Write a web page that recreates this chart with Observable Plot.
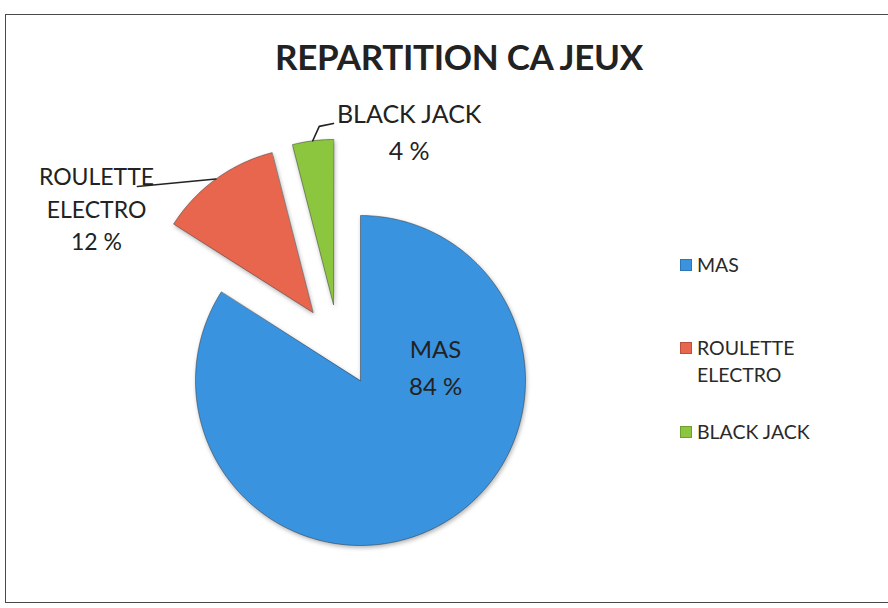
<!DOCTYPE html>
<html>
<head>
<meta charset="utf-8">
<script src="https://cdn.jsdelivr.net/npm/d3@7"></script>
<script src="https://cdn.jsdelivr.net/npm/@observablehq/plot@0.6"></script>
<style>
  html, body { margin: 0; padding: 0; background: #fff; }
  #wrap { position: relative; width: 888px; height: 608px; overflow: hidden; background: #fff; font-family: Lato, "Open Sans", sans-serif; }
  #frame { position: absolute; left: 5px; top: 14px; width: 900px; height: 589px; border: 1.5px solid #4a4a4a; box-sizing: border-box; }
  #title { position: absolute; left: 0; width: 918px; top: 35px; text-align: center; font-weight: 700; font-size: 35px; color: #222; letter-spacing: -0.3px; }
  #chart { position: absolute; left: 0; top: 0; }
  #legend { position: absolute; left: 680px; top: 0; font-size: 19.5px; color: #2a2a2a; }
  .item { position: absolute; left: 0; white-space: nowrap; line-height: 27px; }
  .sw { position: absolute; left: 0; top: 8px; width: 12px; height: 12px; }
  .lab { position: absolute; left: 17px; top: 0; }
</style>
</head>
<body>
<div id="wrap">
  <div id="frame"></div>
  <div id="title"></div>
  <div id="chart"></div>
  <div id="legend"></div>
</div>
<script>
// ---- data ----
const title = "REPARTITION CA JEUX";
const categories = ["MAS", "ROULETTE ELECTRO", "BLACK JACK"];
const values = [84, 12, 4];
const sliceLabels = [["MAS", "84 %"], ["ROULETTE", "ELECTRO", "12 %"], ["BLACK JACK", "4 %"]];
const legendLabels = [["MAS"], ["ROULETTE", "ELECTRO"], ["BLACK JACK"]];
const colors = ["#3a93df", "#e8654e", "#8cc63f"];

// ---- layout (code, not data) ----
const W = 888, H = 608;
const cx = 360, cy = 380, R = 165;            // pie centre and radius in px
const explodeDist = [0, 0.503, 0.489];         // in radius units
const explodeDir = [null, 325, 340.4];         // degrees clockwise from 12 o'clock
const labelAnchors = [[0.455, 0.095], [-1.6, 1.05], [0.295, 1.52]];
const labelSizes = [24, 23, 25];
const labelLineHeights = [1.54, 1.4, 1.48];
const legendTops = [251, 334, 418];

document.getElementById("title").textContent = title;

const pie = d3.pie().sort(null).value(d => d)(values);

const geom = pie.map((p, i) => {
  const mid = (p.startAngle + p.endAngle) / 2;
  const dir = explodeDir[i] == null ? mid : explodeDir[i] * Math.PI / 180;
  return {mid, ox: explodeDist[i] * Math.sin(dir), oy: explodeDist[i] * Math.cos(dir)};
});

// polygon points for each slice, in radius units (y up)
const pts = [];
pie.forEach((p, i) => {
  const {ox, oy} = geom[i];
  const cat = categories[i];
  pts.push({cat, x: ox, y: oy});
  const n = Math.max(8, Math.ceil((p.endAngle - p.startAngle) / (Math.PI / 180)));
  for (let k = 0; k <= n; k++) {
    const a = p.startAngle + (p.endAngle - p.startAngle) * k / n;
    pts.push({cat, x: ox + Math.sin(a), y: oy + Math.cos(a)});
  }
});

// leader lines: from arc midpoint of exploded slices to label
const arcMid = i => ({x: geom[i].ox + Math.sin(geom[i].mid), y: geom[i].oy + Math.cos(geom[i].mid)});
const leaders = [
  {id: 1, ...arcMid(1)}, {id: 1, x: -1.352, y: 1.176},
  {id: 2, ...arcMid(2)}, {id: 2, x: -0.25, y: 1.54}, {id: 2, x: -0.164, y: 1.558}
];

const labelData = sliceLabels.map((l, i) => ({
  text: l.join("\n"), x: labelAnchors[i][0], y: labelAnchors[i][1]
}));

const chart = Plot.plot({
  width: W, height: H, margin: 0,
  x: {domain: [(0 - cx) / R, (W - cx) / R], range: [0, W], axis: null},
  y: {domain: [(cy - H) / R, cy / R], range: [H, 0], axis: null},
  color: {domain: categories, range: colors},
  style: {background: "transparent", overflow: "visible"},
  marks: [
    Plot.line(pts, {x: "x", y: "y", z: "cat", fill: "cat", stroke: "rgba(40,40,40,0.45)", strokeWidth: 1, curve: "linear-closed"}),
    Plot.line(leaders, {x: "x", y: "y", z: "id", stroke: "#222", strokeWidth: 1.6}),
    ...labelData.map((d, i) => Plot.text([d], {x: "x", y: "y", text: "text", fontSize: labelSizes[i], lineHeight: labelLineHeights[i], lineAnchor: "middle", textAnchor: "middle", fill: "#222", fontFamily: "Lato, 'Open Sans', sans-serif"}))
  ]
});
const lineG = chart.querySelector("g[aria-label='line']");
if (lineG) lineG.style.filter = "drop-shadow(1px 2px 2px rgba(0,0,0,0.3))";
document.getElementById("chart").appendChild(chart);

// legend
const leg = document.getElementById("legend");
legendLabels.forEach((l, i) => {
  const item = document.createElement("div");
  item.className = "item";
  item.style.top = legendTops[i] + "px";
  const sw = document.createElement("div");
  sw.className = "sw"; sw.style.background = colors[i];
  sw.style.boxShadow = "inset 0 0 0 1px rgba(0,0,0,0.2)";
  const lab = document.createElement("div");
  lab.className = "lab";
  lab.innerHTML = l.join("<br>");
  item.appendChild(sw); item.appendChild(lab);
  leg.appendChild(item);
});
</script>
</body>
</html>
